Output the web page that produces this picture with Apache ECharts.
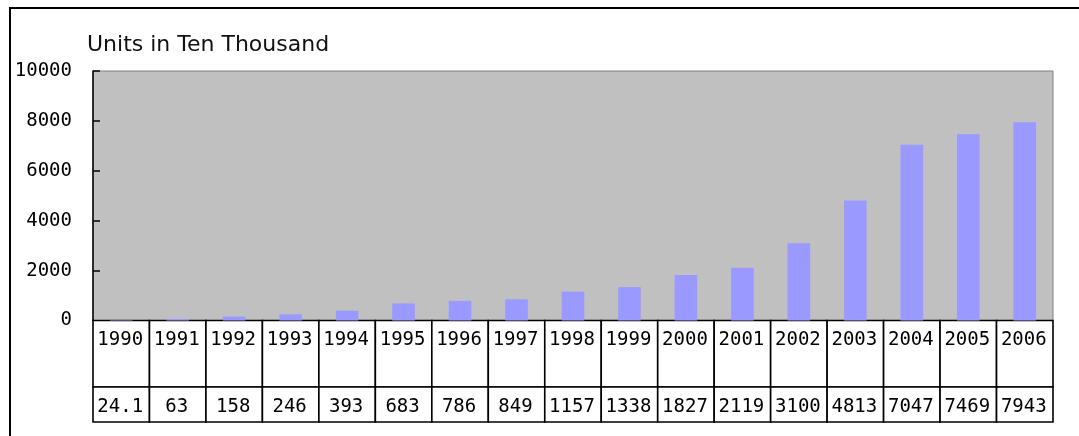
<!DOCTYPE html>
<html>
<head>
<meta charset="utf-8">
<script src="https://cdn.jsdelivr.net/npm/echarts@6/dist/echarts.min.js"></script>
<style>
html,body{margin:0;padding:0;background:#fff;}
#chart{width:1079px;height:436px;}
</style>
</head>
<body>
<div id="chart"></div>
<script>
const years = ['1990','1991','1992','1993','1994','1995','1996','1997','1998','1999','2000','2001','2002','2003','2004','2005','2006'];
const values = [24.1, 63, 158, 246, 393, 683, 786, 849, 1157, 1338, 1827, 2119, 3100, 4813, 7047, 7469, 7943];
const valueLabels = ['24.1','63','158','246','393','683','786','849','1157','1338','1827','2119','3100','4813','7047','7469','7943'];
const yTitle = 'Units in Ten Thousand';

const monoFont = '19px "DejaVu Sans Mono"';

function makeCell(labels, textOffset) {
  return function (params, api) {
    const i = api.value(0);
    const p = api.coord([i, 1]);
    const s = api.size([1, 1]);
    const ty = textOffset === null ? p[1] + s[1] / 2 + 3 : p[1] + textOffset;
    return {
      type: 'group',
      children: [
        { type: 'rect', shape: { x: p[0] - s[0] / 2, y: p[1], width: s[0], height: s[1] },
          style: { fill: '#fff', stroke: '#000', lineWidth: 1.6 } },
        { type: 'text', style: { text: labels[i], x: p[0] - 1, y: ty, align: 'center', verticalAlign: 'middle',
          font: monoFont, fill: '#000' } }
      ]
    };
  };
}

const chart = echarts.init(document.getElementById('chart'));
chart.setOption({
  backgroundColor: '#fff',
  animation: false,
  graphic: [
    { type: 'rect', shape: { x: 10, y: 8, width: 3000, height: 3000 }, style: { fill: 'none', stroke: '#000', lineWidth: 2 }, z: 100 },
    { type: 'text', left: 87, top: 34, style: { text: yTitle, font: '22px "DejaVu Sans"', fill: '#111' } }
  ],
  grid: [
    { left: 93, top: 71, width: 960, height: 249.5, show: true, backgroundColor: '#C0C0C0', borderColor: '#808080', borderWidth: 1 },
    { left: 93, top: 320.5, width: 960, height: 66.5 },
    { left: 93, top: 387, width: 960, height: 35 }
  ],
  xAxis: [
    { type: 'category', data: years, gridIndex: 0, axisLine: { show: false }, axisTick: { show: false }, axisLabel: { show: false } },
    { type: 'category', data: years, gridIndex: 1, show: false },
    { type: 'category', data: years, gridIndex: 2, show: false }
  ],
  yAxis: [
    { type: 'value', gridIndex: 0, min: 0, max: 10000, interval: 2000,
      axisLine: { show: true, lineStyle: { color: '#000', width: 1.5 } },
      axisTick: { show: true, inside: true, length: 7, lineStyle: { color: '#000', width: 1.5 } },
      splitLine: { show: false },
      axisLabel: { margin: 21, color: '#000', fontFamily: 'DejaVu Sans Mono', fontSize: 19, formatter: v => String(v) } },
    { type: 'value', gridIndex: 1, min: 0, max: 1, show: false },
    { type: 'value', gridIndex: 2, min: 0, max: 1, show: false }
  ],
  series: [
    { type: 'bar', xAxisIndex: 0, yAxisIndex: 0, data: values, barWidth: '40%', itemStyle: { color: '#9999FF' } },
    { type: 'custom', xAxisIndex: 1, yAxisIndex: 1, data: years.map(y => [y]), encode: { x: 0 }, renderItem: makeCell(years, 20) },
    { type: 'custom', xAxisIndex: 2, yAxisIndex: 2, data: years.map(y => [y]), encode: { x: 0 }, renderItem: makeCell(valueLabels, null) }
  ]
});
</script>
</body>
</html>
